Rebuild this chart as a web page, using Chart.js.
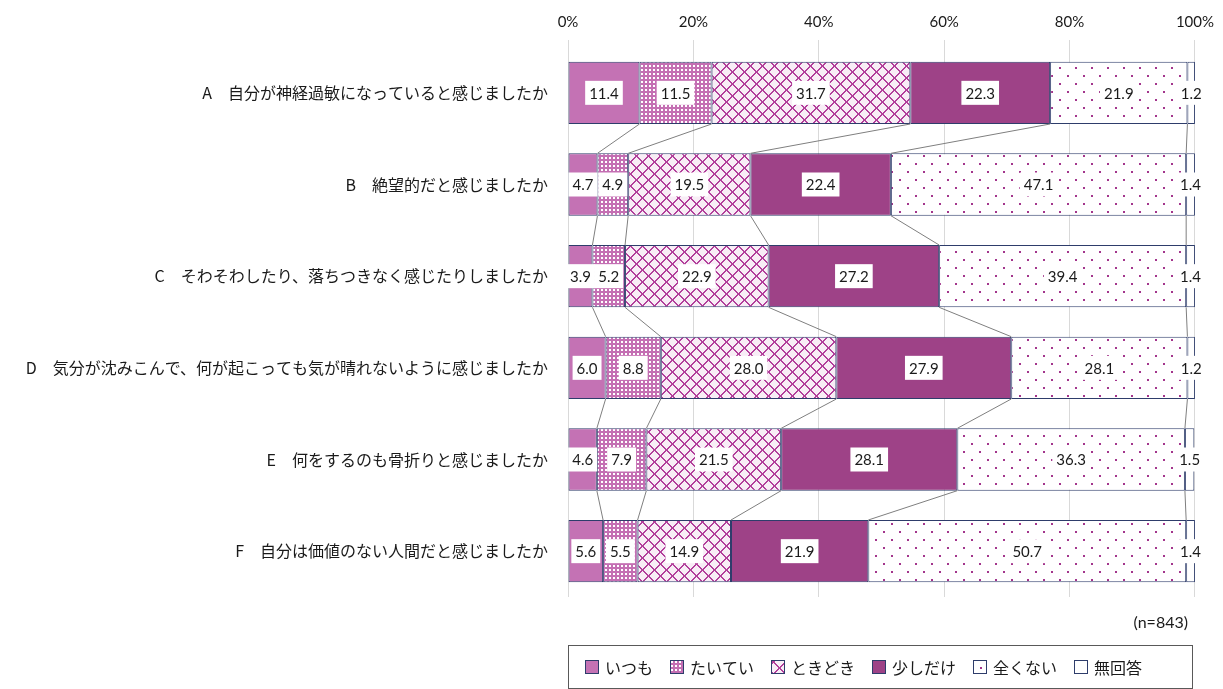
<!DOCTYPE html>
<html lang="ja">
<head>
<meta charset="UTF-8">
<title>気分の状態</title>
<script src="https://cdn.jsdelivr.net/npm/chart.js"></script>
<style>
  html, body { margin: 0; padding: 0; background: #fff; }
  #wrap { width: 1223px; height: 689px; }
</style>
</head>
<body>
<div id="wrap"><canvas id="myChart" width="1223" height="689"></canvas></div>
<script>
// questions (y categories)
const questions = [
  'A\u3000自分が神経過敏になっていると感じましたか',
  'B\u3000絶望的だと感じましたか',
  'C\u3000そわそわしたり、落ちつきなく感じたりしましたか',
  'D\u3000気分が沈みこんで、何が起こっても気が晴れないように感じましたか',
  'E\u3000何をするのも骨折りと感じましたか',
  'F\u3000自分は価値のない人間だと感じましたか'
];
const answerNames = ['いつも', 'たいてい', 'ときどき', '少しだけ', '全くない', '無回答'];

// percentages per answer, in question order A..F
const itsumo    = [11.4, 4.7, 3.9, 6.0, 4.6, 5.6];
const taitei    = [11.5, 4.9, 5.2, 8.8, 7.9, 5.5];
const tokidoki  = [31.7, 19.5, 22.9, 28.0, 21.5, 14.9];
const sukoshi   = [22.3, 22.4, 27.2, 27.9, 28.1, 21.9];
const mattaku   = [21.9, 47.1, 39.4, 28.1, 36.3, 50.7];
const mukaitou  = [1.2, 1.4, 1.4, 1.2, 1.5, 1.4];

const xTicks = [0, 20, 40, 60, 80, 100];
const sampleNote = '(n=843)';

const JP = "'Noto Sans CJK JP', sans-serif";
const NUM = "Lato, 'Noto Sans', sans-serif";
const edge = '#2E3D6B';

// fill patterns
function makePattern(size, draw) {
  const c = document.createElement('canvas');
  c.width = size; c.height = size;
  const g = c.getContext('2d');
  draw(g, size);
  return g.createPattern(c, 'repeat');
}
const dotsPink = makePattern(4, (g) => {
  g.fillStyle = '#C46FB3'; g.fillRect(0, 0, 4, 4);
  g.fillStyle = '#FFFFFF'; g.fillRect(1, 1, 2, 2);
});
const lattice = makePattern(12, (g, s) => {
  g.fillStyle = '#F8EDF6'; g.fillRect(0, 0, s, s);
  g.fillStyle = '#B23F9B';
  for (let i = 0; i < s; i++) {
    g.fillRect(i, i, 1, 1);
    g.fillRect((i + 1) % s, i, 1, 1);
    g.fillRect(s - 1 - i, i, 1, 1);
    g.fillRect((s - i) % s, i, 1, 1);
  }
});
const sparseDots = makePattern(16, (g, s) => {
  g.fillStyle = '#FFFFFF'; g.fillRect(0, 0, s, s);
  g.fillStyle = '#A3358C';
  g.fillRect(3, 3, 2, 2);
  g.fillRect(11, 11, 2, 2);
});

const seriesValues = [itsumo, taitei, tokidoki, sukoshi, mattaku, mukaitou];
const fills = ['#C472B4', dotsPink, lattice, '#9E4287', sparseDots, '#FFFFFF'];

const datasets = seriesValues.map((vals, i) => ({
  label: answerNames[i],
  data: vals,
  backgroundColor: fills[i],
  borderColor: edge,
  borderWidth: 1,
  borderSkipped: false,
  barPercentage: 0.68,
  categoryPercentage: 1.0
}));

// thin lines joining the segment boundaries of neighbouring bars
const connectors = {
  id: 'connectors',
  afterDatasetsDraw(chart) {
    const ctx = chart.ctx;
    const xs = chart.scales.x;
    const n = questions.length;
    const cum = [];
    for (let q = 0; q < n; q++) {
      let s = 0; const row = [];
      for (let k = 0; k < seriesValues.length - 1; k++) { s += seriesValues[k][q]; row.push(s); }
      cum.push(row);
    }
    const bars = chart.getDatasetMeta(0).data;
    ctx.save();
    ctx.strokeStyle = '#7F7F7F';
    ctx.lineWidth = 1;
    for (let q = 0; q < n - 1; q++) {
      const a = bars[q], b = bars[q + 1];
      const y1 = a.y + a.height / 2, y2 = b.y - b.height / 2;
      for (let k = 0; k < cum[q].length; k++) {
        ctx.beginPath();
        ctx.moveTo(xs.getPixelForValue(cum[q][k]), y1);
        ctx.lineTo(xs.getPixelForValue(cum[q + 1][k]), y2);
        ctx.stroke();
      }
    }
    ctx.restore();
  }
};

// value labels in white boxes
const valueLabels = {
  id: 'valueLabels',
  afterDatasetsDraw(chart) {
    const ctx = chart.ctx;
    ctx.save();
    ctx.font = '15px ' + NUM;
    ctx.textAlign = 'center';
    ctx.textBaseline = 'middle';
    chart.data.datasets.forEach((ds, di) => {
      chart.getDatasetMeta(di).data.forEach((el, i) => {
        const txt = ds.data[i].toFixed(1);
        const cx = (el.x + el.base) / 2;
        const w = ctx.measureText(txt).width + 8;
        ctx.fillStyle = '#FFFFFF';
        ctx.fillRect(cx - w / 2, el.y - 12, w, 24);
        ctx.fillStyle = '#1A1A1A';
        ctx.fillText(txt, cx, el.y + 1);
      });
    });
    ctx.restore();
  }
};

// sample size note and boxed legend under the plot
const footer = {
  id: 'footer',
  afterDraw(chart) {
    const ctx = chart.ctx;
    ctx.save();
    ctx.fillStyle = '#1A1A1A';
    ctx.font = '16px ' + NUM;
    ctx.textAlign = 'right';
    ctx.textBaseline = 'middle';
    ctx.fillText(sampleNote, 1188, 623);

    ctx.strokeStyle = '#595959';
    ctx.lineWidth = 1;
    ctx.strokeRect(568.5, 645.5, 624, 43);

    ctx.font = '16px ' + JP;
    ctx.textAlign = 'left';
    let x = 585;
    const cy = 667;
    chart.data.datasets.forEach((ds) => {
      // anchor the fill pattern to the swatch so it shows a sample of it
      ctx.save();
      ctx.translate(x - 4, cy - 11);
      ctx.fillStyle = ds.backgroundColor;
      ctx.fillRect(4, 4, 14, 14);
      ctx.restore();
      ctx.strokeStyle = edge;
      ctx.strokeRect(x + 0.5, cy - 6.5, 13, 13);
      ctx.fillStyle = '#1A1A1A';
      ctx.fillText(ds.label, x + 20, cy + 1);
      x += 20 + ctx.measureText(ds.label).width + 17;
    });
    ctx.restore();
  }
};

const config = {
  type: 'bar',
  data: { labels: questions, datasets: datasets },
  options: {
    indexAxis: 'y',
    responsive: false,
    animation: false,
    layout: { padding: { top: 0, right: 27, bottom: 92, left: 0 } },
    scales: {
      x: {
        position: 'top',
        stacked: true,
        min: 0,
        max: 100,
        afterBuildTicks(scale) { scale.ticks = xTicks.map(v => ({ value: v })); },
        afterFit(scale) { scale.height = 47; },
        ticks: {
          callback: (v) => v + '%',
          color: '#1A1A1A',
          font: { family: NUM, size: 15 },
          padding: 9,
          maxRotation: 0
        },
        grid: { color: '#D9D9D9', tickLength: 7, drawTicks: true },
        border: { display: false }
      },
      y: {
        stacked: true,
        afterFit(scale) { scale.width = 568; },
        ticks: {
          color: '#1A1A1A',
          font: { family: JP, size: 16 },
          padding: 20
        },
        grid: { display: false, drawTicks: false },
        border: { display: false }
      }
    },
    plugins: {
      legend: { display: false },
      tooltip: { enabled: false }
    }
  },
  plugins: [connectors, valueLabels, footer]
};

const myChart = new Chart(document.getElementById('myChart'), config);
</script>
</body>
</html>
